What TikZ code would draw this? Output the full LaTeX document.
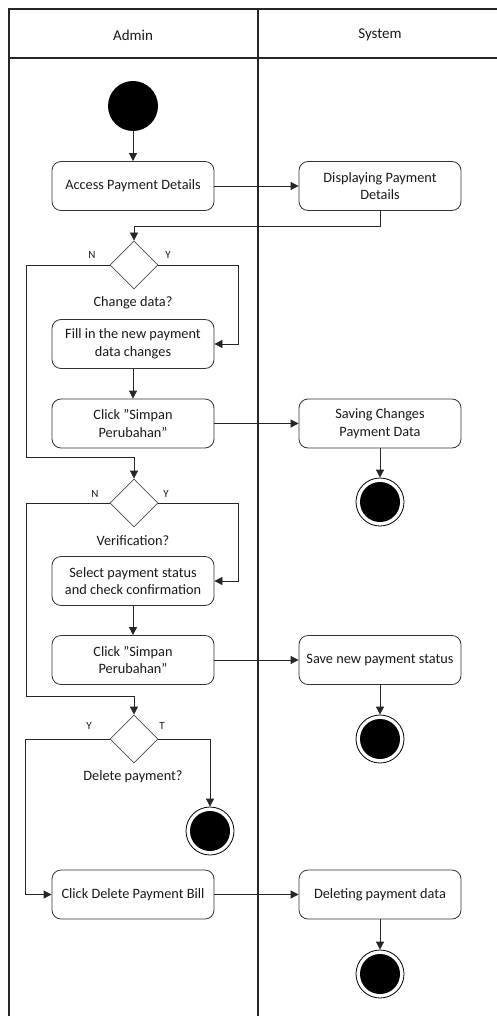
\documentclass[tikz,border=0pt]{standalone}
\usepackage{fontspec}
\setmainfont{Carlito}
\usetikzlibrary{shapes.geometric,arrows.meta}

% straight double quote
\newcommand{\sq}{\symbol{34}}

\tikzset{
  lane/.style={draw=black!85, line width=1.3pt},
  act/.style={draw=black!80, line width=0.8pt, rounded corners=9pt,
    minimum width=162pt, minimum height=49pt, align=center,
    font=\fontsize{14.3}{17.5}\selectfont, text=black!90},
  dec/.style={diamond, draw=black!70, line width=0.8pt, aspect=1,
    minimum width=48pt, minimum height=48pt, inner sep=0pt},
  startnode/.style={circle, fill=black, minimum size=50pt, inner sep=0pt},
  endnode/.style={circle, draw=black, line width=0.8pt, minimum size=48pt,
    inner sep=0pt, path picture={\fill[black] (path picture bounding box.center) circle (20pt);}},
  flow/.style={draw=black!85, line width=0.8pt, -{Triangle[length=8pt,width=8pt]}},
  guard/.style={font=\fontsize{11}{13}\selectfont, text=black!90},
  question/.style={font=\fontsize{14.3}{17}\selectfont, text=black!90},
  head/.style={font=\fontsize{15}{18}\selectfont, text=black!90}
}

\begin{document}
\begin{tikzpicture}[x=1pt, y=-1pt]
\useasboundingbox (0,0) rectangle (497,1016);

% swimlanes
\begin{scope}
  \clip (0,0) rectangle (497,1016);
  \draw[lane] (9,1030) -- (9,9) -- (510,9);
  \draw[lane] (9,58) -- (510,58);
  \draw[lane] (258,9) -- (258,1030);
\end{scope}
\node[head] (hAdmin) at (133,35) {Admin};
\node[head] (hSystem) at (380,35) {System};

% Admin lane
\node[startnode] (start) at (133,106) {};
\node[act] (access) at (133,186) {Access Payment Details};
\node[dec] (d1) at (134,265) {};
\node[question] (q1) at (133,303) {Change data?};
\node[act] (fill) at (133,344) {Fill in the new payment\\data changes};
\node[act] (click1) at (133,423.5) {Click \sq Simpan\\Perubahan\sq};
\node[dec] (d2) at (134,503) {};
\node[question] (q2) at (133,541) {Verification?};
\node[act] (select) at (133,581) {Select payment status\\and check confirmation};
\node[act] (click2) at (133,660) {Click \sq Simpan\\Perubahan\sq};
\node[dec] (d3) at (134,739) {};
\node[question] (q3) at (133,777) {Delete payment?};
\node[endnode] (end3) at (210,831) {};
\node[act] (clickdel) at (133,894.5) {Click Delete Payment Bill};

% System lane
\node[act] (display) at (380,186) {Displaying Payment\\Details};
\node[act] (saving) at (380,423.5) {Saving Changes\\Payment Data};
\node[endnode] (end1) at (380,502) {};
\node[act] (savestatus) at (380,660) {Save new payment status};
\node[endnode] (end2) at (380,739) {};
\node[act] (deleting) at (380,894.5) {Deleting payment data};
\node[endnode] (end4) at (380,974) {};

% guard labels
\node[guard] (n1lbl) at (92,255) {N};
\node[guard] (y1lbl) at (168,255) {Y};
\node[guard] (n2lbl) at (95,494) {N};
\node[guard] (y2lbl) at (166,494) {Y};
\node[guard] (y3lbl) at (89,726) {Y};
\node[guard] (t3lbl) at (162,726) {T};

% bends of the loops
\coordinate (n1) at (26,457);
\coordinate (n2) at (26,696);

% connectors
\draw[flow] (start) -- (access);
\draw[flow] (access) -- (display);
\draw[flow] (display.south) -- ++(0,16) -| (d1.north);
\draw[flow] (d1.east) -| ([xshift=24pt]fill.east) -- (fill.east);
\draw[flow] (d1.west) -| (n1) -| (d2.north);
\draw[flow] (fill) -- (click1);
\draw[flow] (click1) -- (saving);
\draw[flow] (saving) -- (end1);
\draw[flow] (d2.east) -| ([xshift=24pt]select.east) -- (select.east);
\draw[flow] (d2.west) -| (n2) -| (d3.north);
\draw[flow] (select) -- (click2);
\draw[flow] (click2) -- (savestatus);
\draw[flow] (savestatus) -- (end2);
\draw[flow] (d3.east) -| (end3.north);
\draw[flow] (d3.west) -| ([xshift=-26pt]clickdel.west) -- (clickdel.west);
\draw[flow] (clickdel) -- (deleting);
\draw[flow] (deleting) -- (end4);
\end{tikzpicture}
\end{document}
